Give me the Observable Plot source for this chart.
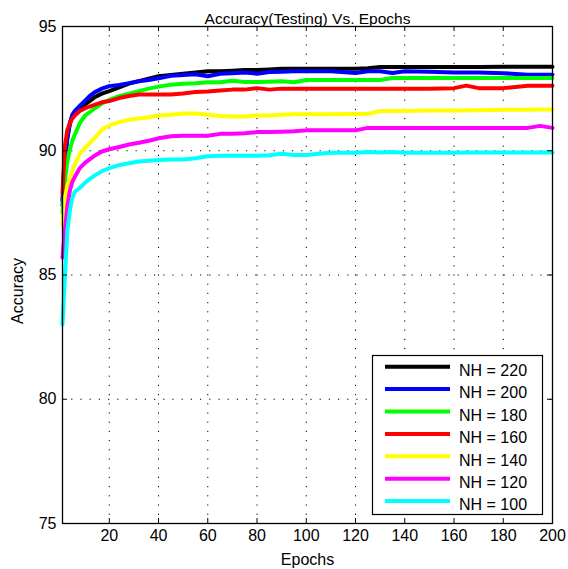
<!DOCTYPE html>
<html>
<head>
<meta charset="utf-8">
<script src="https://cdn.jsdelivr.net/npm/d3@7"></script>
<script src="https://cdn.jsdelivr.net/npm/@observablehq/plot@0.6"></script>
<style>
  html, body { margin: 0; padding: 0; background: white; }
  #chart { position: relative; width: 568px; height: 569px; }
</style>
</head>
<body>
<div id="chart"></div>
<script>
// ---- data ----
const epochs = [1,2,3,4,5,6,8,10,12,14,17,20,24,28,32,36,40,45,50,55,60,65,70,75,80,85,90,95,100,105,110,120,125,130,135,140,150,160,165,170,180,190,195,200];

const nh220 = [88.0,89.8,90.6,91.1,91.4,91.55,91.7,91.85,92.0,92.15,92.3,92.4,92.55,92.7,92.8,92.9,93.0,93.05,93.1,93.15,93.2,93.2,93.22,93.25,93.25,93.27,93.3,93.3,93.3,93.3,93.3,93.3,93.32,93.37,93.37,93.37,93.37,93.37,93.37,93.37,93.38,93.38,93.38,93.38];
const nh200 = [87.8,89.6,90.5,91.1,91.45,91.6,91.8,92.0,92.2,92.35,92.5,92.6,92.65,92.72,92.8,92.85,92.92,93.02,93.05,93.08,93.0,93.1,93.12,93.15,93.1,93.17,93.18,93.2,93.2,93.2,93.2,93.13,93.2,93.2,93.13,93.2,93.18,93.15,93.15,93.15,93.12,93.06,93.06,93.06];
const nh180 = [87.5,88.8,89.6,90.05,90.4,90.65,91.1,91.4,91.55,91.7,91.9,92.05,92.2,92.3,92.4,92.5,92.58,92.66,92.7,92.72,92.76,92.76,92.82,92.77,92.77,92.78,92.8,92.76,92.85,92.85,92.85,92.85,92.85,92.85,92.93,92.93,92.93,92.93,92.93,92.93,92.93,92.93,92.93,92.93];
const nh160 = [88.3,90.2,90.85,91.1,91.3,91.42,91.6,91.7,91.78,91.85,91.95,92.0,92.12,92.2,92.26,92.26,92.26,92.26,92.3,92.36,92.38,92.42,92.46,92.46,92.52,92.46,92.5,92.5,92.5,92.5,92.5,92.5,92.5,92.5,92.5,92.5,92.5,92.52,92.62,92.52,92.52,92.62,92.62,92.62];
const nh140 = [87.0,88.1,88.6,88.85,89.2,89.45,89.87,90.1,90.3,90.5,90.85,91.02,91.15,91.25,91.3,91.35,91.42,91.45,91.5,91.5,91.45,91.4,91.38,91.38,91.42,91.42,91.45,91.47,91.47,91.47,91.47,91.48,91.48,91.6,91.6,91.6,91.62,91.62,91.62,91.63,91.65,91.65,91.66,91.66];
const nh120 = [85.7,86.8,87.8,88.4,88.75,88.95,89.3,89.5,89.65,89.8,89.97,90.06,90.15,90.25,90.32,90.4,90.5,90.58,90.6,90.6,90.6,90.68,90.68,90.7,90.75,90.75,90.76,90.78,90.82,90.82,90.82,90.82,90.92,90.92,90.92,90.92,90.92,90.92,90.92,90.92,90.92,90.92,91.0,90.92];
const nh100 = [83.0,85.0,86.8,87.6,88.1,88.35,88.5,88.7,88.86,89.0,89.18,89.3,89.42,89.5,89.57,89.6,89.63,89.65,89.65,89.7,89.78,89.8,89.8,89.8,89.8,89.82,89.88,89.83,89.83,89.88,89.92,89.92,89.95,89.93,89.95,89.92,89.92,89.92,89.93,89.93,89.93,89.93,89.93,89.93];

const seriesNames = ["NH = 220","NH = 200","NH = 180","NH = 160","NH = 140","NH = 120","NH = 100"];
const seriesColors = ["#000000","#0000ff","#00ff00","#ff0000","#ffff00","#ff00ff","#00ffff"];
const seriesValues = [nh220, nh200, nh180, nh160, nh140, nh120, nh100];

const xTicks = [20,40,60,80,100,120,140,160,180,200];
const yTicks = [75,80,85,90,95];

const titleText = "Accuracy(Testing) Vs. Epochs";
const xLabel = "Epochs";
const yLabel = "Accuracy";

// ---- build table ----
const data = [];
seriesValues.forEach((vals, i) => vals.forEach((v, j) => data.push({epoch: epochs[j], acc: v, series: seriesNames[i]})));

const W = 568, H = 569;
const mt = 26, mb = 46, ml = 62, mr = 16;
const innerH = H - mt - mb, innerW = W - ml - mr;
const font = "'Liberation Sans', Arial, Helvetica, sans-serif";

const chart = Plot.plot({
  width: W, height: H,
  marginTop: mt, marginBottom: mb, marginLeft: ml, marginRight: mr,
  style: {fontFamily: font, fontSize: "16px", background: "white", color: "black", overflow: "visible"},
  x: {domain: [1, 200], ticks: xTicks, label: null},
  y: {domain: [75, 95], ticks: yTicks, label: null},
  color: {domain: seriesNames, range: seriesColors},
  marks: [
    Plot.gridX(xTicks, {stroke: "black", strokeOpacity: 1, strokeWidth: 1, strokeDasharray: "1.2,8"}),
    Plot.gridY(yTicks, {stroke: "black", strokeOpacity: 1, strokeWidth: 1, strokeDasharray: "1.2,8"}),
    Plot.line(data, {x: "epoch", y: "acc", z: "series", stroke: "series", strokeWidth: 4, strokeLinejoin: "round"}),
    Plot.ruleX(xTicks, {insetTop: innerH - 5, stroke: "black"}),
    Plot.ruleX(xTicks, {insetBottom: innerH - 5, stroke: "black"}),
    Plot.ruleY(yTicks, {insetRight: innerW - 5, stroke: "black"}),
    Plot.ruleY(yTicks, {insetLeft: innerW - 5, stroke: "black"}),
    Plot.frame({stroke: "black", strokeWidth: 1.3}),
    Plot.axisX(xTicks, {tickSize: 0, tickPadding: 6, fontSize: 16}),
    Plot.axisY(yTicks, {tickSize: 0, tickPadding: 6, fontSize: 16}),
    Plot.text([titleText], {text: d => d, frameAnchor: "top", dy: -14, fontSize: 15.5}),
    Plot.text([xLabel], {text: d => d, frameAnchor: "bottom", textAnchor: "middle", dy: 41, fontSize: 16}),
    Plot.text([yLabel], {text: d => d, frameAnchor: "left", textAnchor: "middle", dx: -45, dy: 16, rotate: -90, fontSize: 16})
  ]
});

const container = document.getElementById("chart");
container.appendChild(chart);

// ---- legend overlay ----
const leg = d3.select(container).append("svg")
  .attr("width", W).attr("height", H)
  .style("position", "absolute").style("left", "0px").style("top", "0px")
  .style("pointer-events", "none");
leg.append("rect")
  .attr("x", 372.5).attr("y", 355.5).attr("width", 170).attr("height", 159)
  .attr("fill", "white").attr("stroke", "black").attr("stroke-width", 1.2);
seriesNames.forEach((name, i) => {
  const cy = 366.7 + i * 22.4;
  leg.append("line")
    .attr("x1", 385).attr("x2", 450).attr("y1", cy).attr("y2", cy)
    .attr("stroke", seriesColors[i]).attr("stroke-width", 4);
  leg.append("text")
    .attr("x", 459).attr("y", cy + 9.3)
    .attr("font-family", font).attr("font-size", 16).attr("fill", "black")
    .text(name);
});
</script>
</body>
</html>
